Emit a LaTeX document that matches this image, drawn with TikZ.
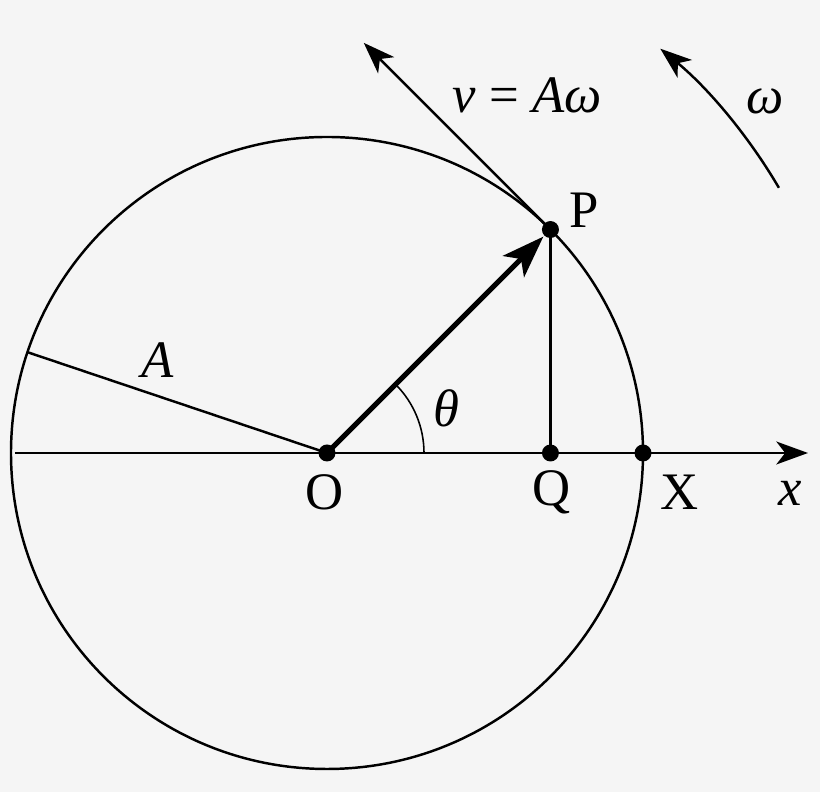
\documentclass[tikz,border=0pt]{standalone}
\usepackage{fontspec}
\setmainfont{Liberation Serif}
\usetikzlibrary{arrows.meta, positioning, calc}
\definecolor{bggray}{RGB}{245,245,245}

\begin{document}
\begin{tikzpicture}[
    font=\fontsize{15}{17}\selectfont,
    dot/.style={circle, fill=black, inner sep=0pt, minimum size=0.17cm},
    thinline/.style={line width=0.7pt},
    arrow/.style={line width=0.7pt, -{Stealth[length=9pt, width=6.5pt, inset=2.5pt]}},
    vector/.style={line width=1.5pt, -{Stealth[length=12pt, width=8.5pt, inset=3pt]}, shorten >=0.1cm},
    label/.style={inner sep=0pt}
]
    % Background
    \fill[bggray] (-3.27,-3.39) rectangle (4.93,4.53);
    \useasboundingbox (-3.27,-3.39) rectangle (4.93,4.53);
    % Circle and axis
    \draw[thinline] (0,0) circle[radius=3.16];
    \coordinate (xstart) at (-3.12,0);
    \coordinate (xend) at (4.81,0);
    \draw[arrow, line width=0.8pt] (xstart) -- (xend);
    % Points
    \node (O) [dot] at (0,0) {};
    \node (P) [dot] at (45:3.16) {};
    \node (Q) [dot] at (P |- O) {};
    \node (X) [dot] at (3.16,0) {};
    % Radius and projection
    \coordinate (Aend) at (161.4:3.16);
    \draw[thinline] (O.center) -- (Aend);
    \draw[thinline] (P.center) -- (Q.center);
    \draw[vector] (O.center) -- (P.center);
    \draw[line width=0.45pt] (0.97,0) arc[start angle=0, end angle=45, radius=0.97];
    % Tangent velocity and rotation
    \coordinate (vtip) at ($(P.center)+(135:2.64)$);
    \draw[arrow] (P.center) -- (vtip);
    \coordinate (wstart) at (30.4:5.24);
    \draw[arrow] (wstart) arc[start angle=30.4, end angle=50.5, radius=5.24];
    % Labels
    \node[label] (Olab) at (-0.02,-0.39) {O};
    \node[label] (Qlab) at (2.25,-0.39) {Q};
    \node[label] (Xlab) at (3.53,-0.39) {X};
    \node[label] (xlab) at (4.63,-0.40) {\textit{x}};
    \node[label] (Plab) at (2.57,2.43) {P};
    \node[label] (Alab) at (-1.69,0.93) {\textit{A}};
    \node[label] (thlab) at (1.19,0.45) {\textit{θ}};
    \node[label] (wlab) at (4.38,3.52) {\textit{ω}};
    \node[label] (vlab) at (2.0,3.58) {\textit{v} = \textit{Aω}};
\end{tikzpicture}
\end{document}
